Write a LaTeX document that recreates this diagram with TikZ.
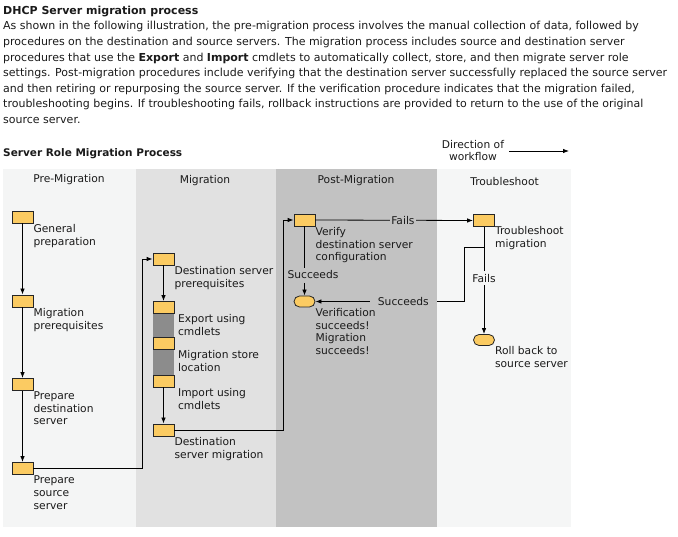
\documentclass[tikz,border=0pt]{standalone}
\usepackage{fontspec}
\setmainfont{DejaVu Sans}
\usetikzlibrary{arrows.meta}

\definecolor{boxyellow}{HTML}{FBCB62}
\definecolor{txtcol}{HTML}{1A1A1A}
\definecolor{pregray}{HTML}{F4F5F5}
\definecolor{miggray}{HTML}{E1E1E1}
\definecolor{postgray}{HTML}{C2C2C2}
\definecolor{tsgray}{HTML}{F5F6F6}
\definecolor{bargray}{HTML}{8C8C8C}

\tikzset{
  stepbox/.style={draw=black!85, line width=0.8pt, fill=boxyellow, minimum width=21pt, minimum height=12pt, inner sep=0pt},
  endbox/.style={stepbox, minimum height=11pt, rounded corners=5.5pt},
  lbl/.style={anchor=north west, inner sep=0pt, align=left, yshift=-0.5pt},
  hdr/.style={anchor=base, inner sep=0pt},
  flow/.style={line width=0.8pt, -{Latex[length=6pt,width=4.5pt]}},
  link/.style={line width=0.8pt},
}

\begin{document}
\begin{tikzpicture}[x=1pt,y=-1pt,font=\fontsize{10.7}{12.8}\selectfont,text=txtcol]
\useasboundingbox (0,0) rectangle (678,537);

% intro text
\node[anchor=north west, inner sep=0pt, align=left, font=\fontsize{11}{15.6}\selectfont] (intro) at (3,5.8)
{\textbf{DHCP Server migration process}\\
As shown in the following illustration, the pre-migration process involves the manual collection of data, followed by\\
procedures on the destination and source servers. The migration process includes source and destination server\\
procedures that use the \textbf{Export} and \textbf{Import} cmdlets to automatically collect, store, and then migrate server role\\
settings. Post-migration procedures include verifying that the destination server successfully replaced the source server\\
and then retiring or repurposing the source server. If the verification procedure indicates that the migration failed,\\
troubleshooting begins. If troubleshooting fails, rollback instructions are provided to return to the use of the original\\
source server.};

\node[anchor=base west, inner sep=0pt, font=\fontsize{10.5}{12}\bfseries] (title) at (3,156.5) {Server Role Migration Process};
\node[align=center, inner sep=0pt, font=\fontsize{10.7}{12}\selectfont] (dir) at (473,151) {Direction of\\workflow};
\coordinate (dirend) at (569,151);
\draw[flow] ([xshift=5pt]dir.east) -- (dirend);

% swim lanes
\fill[pregray]  (3,169)   rectangle (136,527);
\fill[miggray]  (136,169) rectangle (276,527);
\fill[postgray] (276,169) rectangle (437,527);
\fill[tsgray]   (437,169) rectangle (571,527);

\node[hdr] (hpre)  at (69,183)    {Pre-Migration};
\node[hdr] (hmig)  at (205,184)   {Migration};
\node[hdr] (hpost) at (356,184)   {Post-Migration};
\node[hdr] (hts)   at (504.5,186) {Troubleshoot};

% pre-migration
\node[stepbox] (gp) at (22.5,217)   {};
\node[stepbox] (mp) at (22.5,301)   {};
\node[stepbox] (pd) at (22.5,384.5) {};
\node[stepbox] (ps) at (22.5,468.5) {};

\node[lbl] (gplbl) at (gp.south east) {General\\preparation};
\node[lbl] (mplbl) at (mp.south east) {Migration\\prerequisites};
\node[lbl] (pdlbl) at (pd.south east) {Prepare\\destination\\server};
\node[lbl] (pslbl) at (ps.south east) {Prepare\\source\\server};

\draw[flow] (gp) -- (mp);
\draw[flow] (mp) -- (pd);
\draw[flow] (pd) -- (ps);

% migration
\fill[bargray] (153,313) rectangle (174,376);
\node[stepbox] (dp) at (163.5,259)   {};
\node[stepbox] (ex) at (163.5,307.5) {};
\node[stepbox] (ms) at (163.5,343.5) {};
\node[stepbox] (im) at (163.5,381)   {};
\node[stepbox] (dm) at (163.5,430)   {};

\node[lbl] (dplbl) at (dp.south east) {Destination server\\prerequisites};
\node[lbl,xshift=3.5pt] (exlbl) at (ex.south east) {Export using\\cmdlets};
\node[lbl,xshift=3.5pt] (mslbl) at (ms.south east) {Migration store\\location};
\node[lbl,xshift=3.5pt] (imlbl) at (im.south east) {Import using\\cmdlets};
\node[lbl] (dmlbl) at (dm.south east) {Destination\\server migration};

\draw[flow] (ps.east) -- ++(108.5,0) |- (dp.west);
\draw[flow] (dp) -- (ex);
\draw[flow] (im) -- (dm);

% post-migration
\node[stepbox] (vf) at (304.5,220)   {};
\node[endbox]  (ok) at (304.5,301.5) {};
\node[lbl] (vflbl) at (vf.south east) {Verify\\destination server\\configuration};
\node[lbl] (oklbl) at (ok.south east) {Verification\\succeeds!\\Migration\\succeeds!};
\node[inner sep=0pt, anchor=base] (succA) at (313,278.5) {Succeeds};

\draw[flow] (dm.east) -- ++(108.5,0) |- (vf.west);
\draw[link] (vf.south) -- ([yshift=2pt]vf.south |- succA.north);
\draw[flow] ([yshift=-4pt]vf.south |- succA.south) -- (ok.north);

% troubleshoot
\node[stepbox] (ts) at (484,220.5) {};
\node[endbox]  (rb) at (484,340)   {};
\node[lbl,yshift=1pt] (tslbl) at (ts.south east) {Troubleshoot\\migration};
\node[lbl] (rblbl) at (rb.south east) {Roll back to\\source server};
\coordinate (br) at (484,247);

\draw[flow] (vf.east) -- node[pos=0.555, fill=postgray, inner sep=1pt] {Fails} (ts.west);
\draw[flow] (ts) -- node[pos=0.48, fill=tsgray, inner xsep=1pt, inner ysep=3pt] {Fails} (rb);
\draw[flow] (br) -- ++(-19.5,0) |- node[pos=0.705, fill=postgray, inner xsep=8pt, inner ysep=2pt] {Succeeds} (ok.east);

\end{tikzpicture}
\end{document}
